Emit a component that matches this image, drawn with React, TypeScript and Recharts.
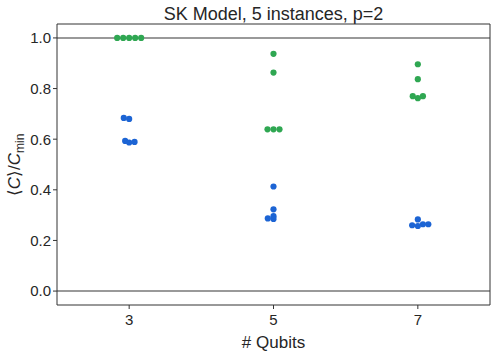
import {
	ReferenceLine,
	Scatter,
	ScatterChart,
	XAxis,
	YAxis,
} from "recharts"

const qubits = [3, 5, 7]
const yTicks = [0, 0.2, 0.4, 0.6, 0.8, 1.0]

// ratio per instance, one list per qubit count
const greenValues = [
	[1.0, 1.0, 1.0, 1.0, 1.0],
	[0.937, 0.863, 0.639, 0.639, 0.639],
	[0.896, 0.837, 0.77, 0.762, 0.77],
]
const blueValues = [
	[0.684, 0.68, 0.593, 0.587, 0.589],
	[0.413, 0.323, 0.296, 0.287, 0.285],
	[0.283, 0.26, 0.257, 0.264, 0.264],
]
// swarm dodge, in dot widths
const greenDodge = [
	[-2, -1, 0, 1, 2],
	[0, 0, -1, 0, 1],
	[0, 0, -0.85, 0, 0.85],
]
const blueDodge = [
	[-0.9, 0, -0.67, 0, 0.9],
	[0, 0, 0, -0.95, 0],
	[0, -0.95, 0, 0.85, 1.75],
]

const DOT_W = 0.083
const X_DOMAIN = [2, 8]
const Y_DOMAIN = [-0.055, 1.055]

const toPoints = (values: number[][], dodge: number[][]) =>
	qubits.flatMap((q, i) =>
		values[i].map((v, j) => ({ x: q + dodge[i][j] * DOT_W, y: v })),
	)

const greenData = toPoints(greenValues, greenDodge)
const blueData = toPoints(blueValues, blueDodge)

const font = "'Liberation Sans', Arial, sans-serif"
const frame = "#333333"
const ink = "#262626"

const dot = (color: string) => (props: any) => (
	<circle cx={props.cx} cy={props.cy} r={3.1} fill={color} />
)

const YLabel = () => (
	<text
		x={20}
		y={165}
		transform="rotate(-90 20 165)"
		textAnchor="middle"
		fontFamily={font}
		fontSize={17}
		fill={ink}
	>
		⟨<tspan fontStyle="italic">C</tspan>⟩/<tspan fontStyle="italic">C</tspan>
		<tspan fontSize={12} dy={4}>
			min
		</tspan>
	</text>
)

const App = () => (
	<div style={{ position: "absolute", left: 0, top: 0, background: "#fff" }}>
		<ScatterChart
			width={496}
			height={352}
			margin={{ top: 24, right: 6, bottom: 0, left: 0 }}
		>
			<text
				x={273.5}
				y={20}
				textAnchor="middle"
				fontFamily={font}
				fontSize={18}
				fill={ink}
			>
				SK Model, 5 instances, p=2
			</text>
			<XAxis
				type="number"
				dataKey="x"
				domain={X_DOMAIN}
				ticks={qubits}
				allowDataOverflow
				height={47}
				stroke={frame}
				tickSize={4}
				tick={{ fill: ink, fontSize: 15, fontFamily: font, dy: 3 }}
				label={{
					value: "# Qubits",
					position: "insideBottom",
					offset: 4,
					fill: ink,
					fontSize: 17,
					fontFamily: font,
				}}
			/>
			<YAxis
				type="number"
				dataKey="y"
				domain={Y_DOMAIN}
				ticks={yTicks}
				allowDataOverflow
				width={57}
				stroke={frame}
				tickSize={4}
				tickFormatter={(v: number) => v.toFixed(1)}
				tick={{ fill: ink, fontSize: 15, fontFamily: font }}
				label={<YLabel />}
			/>
			<ReferenceLine y={1} stroke="#999" strokeWidth={2} />
			<ReferenceLine y={0} stroke="#999" strokeWidth={2} />
			<ReferenceLine y={Y_DOMAIN[1]} stroke={frame} />
			<ReferenceLine x={X_DOMAIN[1]} stroke={frame} />
			<Scatter
				data={greenData}
				fill="#2fa752"
				shape={dot("#2fa752")}
				isAnimationActive={false}
			/>
			<Scatter
				data={blueData}
				fill="#1c64d4"
				shape={dot("#1c64d4")}
				isAnimationActive={false}
			/>
		</ScatterChart>
	</div>
)

export default App
